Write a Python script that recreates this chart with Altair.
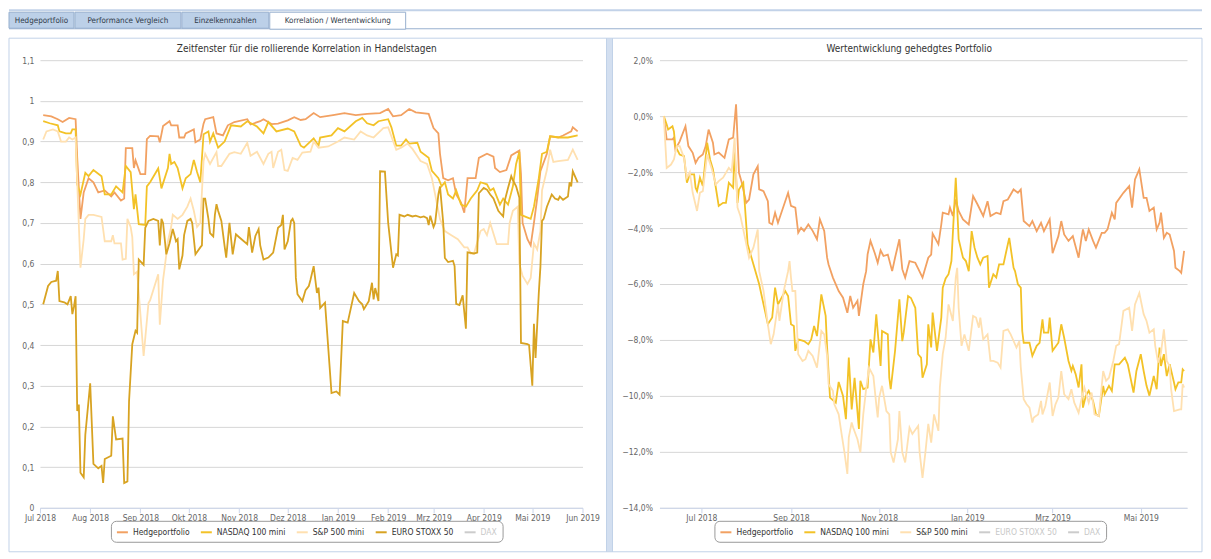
import altair as alt
import pandas as pd

# ---------------------------------------------------------------- data
SERIES = ["Hedgeportfolio", "NASDAQ 100 mini", "S&P 500 mini", "EURO STOXX 50", "DAX"]
MONTHS_DE = ["Jan", "Feb", "Mrz", "Apr", "Mai", "Jun", "Jul", "Aug", "Sep", "Okt", "Nov", "Dez"]
TABS = ["Hedgeportfolio", "Performance Vergleich", "Einzelkennzahlen", "Korrelation / Wertentwicklung"]
CORR_TITLE = "Zeitfenster für die rollierende Korrelation in Handelstagen"
PERF_TITLE = "Wertentwicklung gehedgtes Portfolio"
CORR_TICKS = [0, 0.1, 0.2, 0.3, 0.4, 0.5, 0.6, 0.7, 0.8, 0.9, 1, 1.1]
PERF_TICKS = [-14, -12, -10, -8, -6, -4, -2, 0, 2]

# rolling correlation, days counted from CORR_START
CORR_START = "2018-07-01"
corr_hedge_days = [
    2, 7, 11, 14, 18, 22, 23, 25, 27, 30, 33, 36, 40, 44, 46, 50, 52, 53, 57, 58,
    59, 62, 65, 66, 68, 73, 74, 76, 80, 81, 85, 86, 89, 90, 95, 96, 99, 101, 102, 107,
    109, 113, 116, 120, 128, 130, 136, 138, 143, 147, 153, 157, 161, 164, 169, 173, 181, 188, 195, 202,
    210, 215, 218, 223, 228, 232, 240, 243, 246, 247, 249, 252, 255, 257, 260, 262, 264, 269, 271, 276,
    280, 281, 284, 288, 291, 296, 297, 298, 301, 303, 305, 307, 309, 313, 315, 320, 323, 328, 329, 332]
corr_hedge = [
    .965, .962, .955, .948, .958, .955, .86, .71, .775, .81, .80, .775, .78, .765, .775, .755, .76, .884, .884, .835,
    .854, .82, .82, .906, .914, .913, .898, .938, .95, .94, .94, .91, .91, .92, .93, .898, .905, .944, .955, .96,
    .92, .915, .94, .948, .955, .942, .95, .955, .943, .944, .952, .96, .953, .955, .97, .96, .965, .97, .965, .968,
    .97, .98, .962, .965, .98, .972, .968, .933, .92, .87, .81, .805, .81, .77, .75, .725, .81, .81, .86, .87,
    .863, .835, .825, .83, .866, .878, .82, .70, .66, .645, .70, .76, .827, .87, .913, .91, .915, .925, .935, .925]

corr_nasdaq_days = [
    2, 6, 11, 12, 16, 19, 20, 22, 23, 25, 28, 30, 33, 38, 40, 44, 47, 51, 53, 56,
    58, 59, 61, 65, 66, 68, 73, 75, 79, 80, 81, 83, 85, 88, 90, 93, 95, 97, 99, 101,
    104, 105, 107, 110, 114, 118, 124, 128, 134, 138, 141, 146, 153, 157, 161, 163, 169, 172, 173, 180,
    184, 188, 195, 199, 202, 206, 209, 215, 217, 220, 223, 226, 228, 233, 235, 240, 242, 246, 248, 250,
    252, 255, 257, 260, 263, 266, 270, 272, 276, 278, 280, 284, 286, 289, 291, 292, 294, 296, 297, 300,
    303, 305, 308, 310, 313, 315, 321, 326, 332]
corr_nasdaq = [
    .95, .945, .94, .925, .92, .92, .93, .93, .795, .77, .823, .815, .83, .815, .77, .77, .79, .775, .84, .825,
    .734, .77, .697, .695, .79, .80, .834, .785, .835, .87, .845, .85, .835, .785, .81, .82, .855, .825, .80, .918,
    .925, .90, .92, .885, .90, .94, .937, .95, .937, .92, .948, .925, .932, .925, .89, .885, .908, .89, .91, .915,
    .933, .925, .95, .958, .945, .94, .95, .955, .935, .89, .89, .905, .895, .897, .875, .86, .828, .81, .79, .80,
    .77, .76, .78, .745, .74, .76, .78, .80, .795, .78, .785, .745, .76, .745, .775, .79, .845, .875, .72, .715,
    .71, .74, .81, .87, .875, .913, .91, .91, .915]

corr_sp_days = [
    2, 4, 8, 11, 13, 16, 18, 20, 22, 23, 25, 27, 28, 30, 33, 38, 40, 44, 45, 46,
    50, 51, 53, 54, 56, 57, 58, 60, 64, 67, 68, 73, 74, 76, 77, 79, 81, 82, 85, 88,
    91, 93, 95, 97, 99, 101, 102, 105, 109, 110, 112, 117, 120, 124, 128, 130, 134, 138, 141, 143,
    144, 147, 149, 151, 153, 156, 159, 162, 167, 169, 172, 178, 184, 188, 194, 198, 202, 206, 212, 215,
    220, 223, 227, 230, 235, 239, 242, 244, 247, 250, 254, 258, 262, 264, 266, 268, 272, 274, 276, 278,
    282, 289, 290, 292, 295, 296, 298, 301, 303, 305, 307, 309, 310, 313, 315, 317, 320, 326, 329, 332]
corr_sp = [
    .905, .925, .93, .925, .90, .90, .91, .905, .91, .80, .59, .66, .71, .72, .72, .715, .655, .655, .67, .65,
    .65, .61, .612, .71, .69, .665, .574, .58, .373, .503, .51, .574, .45, .56, .59, .655, .69, .72, .71, .72,
    .74, .76, .73, .69, .70, .852, .87, .845, .874, .84, .84, .87, .874, .87, .897, .865, .875, .845, .87, .875,
    .835, .875, .88, .83, .828, .86, .855, .873, .875, .90, .885, .888, .90, .91, .905, .925, .915, .91, .933, .935,
    .88, .885, .895, .882, .852, .845, .81, .77, .71, .68, .67, .66, .64, .64, .625, .625, .68, .685, .67, .70,
    .648, .648, .70, .73, .74, .60, .57, .55, .565, .65, .635, .68, .78, .83, .88, .85, .852, .855, .88, .855]

corr_euro_days = [
    2, 5, 7, 10, 11, 12, 15, 17, 19, 20, 21, 22, 23, 24, 25, 27, 28, 31, 33, 36,
    38, 39, 40, 44, 45, 47, 51, 52, 54, 55, 57, 59, 60, 61, 64, 65, 67, 70, 73, 74,
    75, 76, 78, 80, 82, 84, 85, 86, 88, 89, 91, 93, 94, 96, 99, 100, 101, 102, 104, 105,
    107, 108, 109, 110, 112, 114, 115, 117, 119, 121, 123, 128, 129, 131, 133, 135, 136, 138, 141, 144,
    147, 149, 150, 151, 153, 155, 156, 157, 158, 159, 162, 164, 166, 167, 169, 171, 172, 173, 176, 180,
    183, 185, 187, 190, 194, 197, 199, 200, 203, 205, 206, 207, 209, 210, 213, 215, 218, 220, 221, 222,
    225, 227, 230, 232, 235, 237, 239, 240, 241, 243, 244, 246, 247, 249, 250, 252, 255, 256, 257, 259,
    261, 263, 264, 268, 270, 271, 274, 276, 278, 280, 283, 284, 286, 287, 289, 291, 292, 294, 296, 297,
    301, 302, 304, 305, 306, 308, 309, 310, 311, 313, 316, 318, 320, 321, 323, 326, 327, 328, 329, 332]
corr_euro = [
    .50, .545, .555, .558, .582, .508, .505, .50, .52, .476, .495, .52, .238, .254, .086, .075, .18, .306, .108, .097,
    .103, .061, .12, .128, .225, .168, .17, .061, .065, .262, .402, .435, .43, .61, .597, .688, .705, .71, .705, .645,
    .71, .70, .623, .65, .685, .655, .66, .586, .62, .67, .705, .71, .70, .623, .64, .645, .76, .76, .71, .675,
    .667, .72, .746, .73, .705, .643, .615, .70, .623, .672, .665, .648, .69, .627, .668, .685, .645, .61, .615, .627,
    .688, .695, .72, .635, .655, .705, .71, .70, .565, .525, .508, .535, .545, .56, .594, .528, .541, .491, .504, .282,
    .286, .278, .459, .455, .528, .508, .50, .488, .508, .553, .512, .54, .508, .827, .826, .70, .59, .623, .62, .72,
    .716, .72, .716, .718, .714, .716, .712, .695, .718, .69, .70, .77, .79, .70, .614, .604, .607, .594, .501, .498,
    .522, .44, .628, .625, .627, .773, .786, .782, .77, .76, .73, .725, .716, .755, .786, .815, .805, .79, .762, .405,
    .402, .40, .30, .452, .368, .528, .592, .705, .71, .74, .77, .76, .757, .765, .757, .765, .80, .79, .827, .80]

# hedged portfolio performance in %, days counted from PERF_START
PERF_START = "2018-06-01"
perf_hedge_days = [
    4, 6, 10, 11, 12, 15, 19, 21, 24, 26, 28, 31, 33, 35, 38, 39, 42, 46, 49, 52,
    54, 56, 58, 61, 63, 66, 69, 70, 73, 76, 77, 79, 81, 83, 90, 92, 95, 97, 99, 101,
    104, 107, 110, 112, 115, 117, 118, 121, 125, 128, 131, 133, 135, 138, 139, 142, 144, 145, 147, 150,
    152, 154, 156, 159, 162, 164, 167, 169, 171, 174, 178, 180, 183, 187, 189, 190, 194, 196, 197, 201,
    202, 204, 206, 208, 211, 215, 218, 221, 225, 228, 230, 234, 237, 239, 242, 246, 249, 251, 253, 257,
    259, 262, 265, 267, 271, 273, 277, 279, 281, 284, 287, 291, 293, 294, 296, 298, 301, 303, 307, 309,
    311, 314, 316, 317, 322, 326, 328, 330, 333, 336, 338, 340, 343, 345, 347, 348, 350, 352, 354, 357,
    358, 361, 362, 364]
perf_hedge = [
    0, -0.83, -0.83, -0.77, -1.19, -0.9, -0.36, -1.07, -1.31, -1.67,
    -1.49, -1.37, -1.07, -0.48, -0.95, -1.37, -1.3, -1.49, -0.83, -0.77,
    0.42, -2.02, -2.38, -3.1, -2.98, -2.08, -1.79, -2.62, -2.68, -3.04,
    -3.81, -3.87, -3.45, -3.81, -2.74, -3.21, -3.27, -4.17, -3.99, -4.11,
    -3.87, -4.1, -4.4, -3.69, -4.1, -5.06, -5.3, -5.77, -6.25, -6.49,
    -7.03, -6.43, -6.85, -6.6, -7.14, -6.01, -5.54, -4.94, -4.46, -4.9,
    -5.24, -4.8, -5.0, -4.95, -5.54, -5.06, -4.4, -5.47, -5.77, -5.18,
    -5.24, -5.45, -5.77, -5.06, -4.95, -4.2, -4.58, -3.87, -3.45, -3.51,
    -3.27, -3.57, -2.98, -3.39, -3.69, -3.87, -2.86, -3.15, -3.57, -3.04,
    -3.57, -3.45, -3.5, -3.04, -2.98, -2.62, -2.74, -2.62, -3.75, -3.93,
    -3.75, -4.11, -3.81, -4.11, -3.69, -4.9, -4.29, -3.75, -4.23, -4.46,
    -4.29, -5.06, -4.35, -4.05, -4.46, -4.05, -4.46, -4.7, -4.17, -4.17,
    -4.05, -3.45, -3.69, -3.1, -2.74, -2.5, -3.27, -2.26, -1.9, -2.92,
    -2.92, -3.39, -3.27, -4.05, -3.81, -3.45, -4.35, -4.17, -4.23, -4.82,
    -5.42, -5.54, -5.6, -4.82]

perf_nasdaq_days = [
    4, 6, 7, 10, 11, 12, 15, 18, 20, 22, 25, 26, 27, 29, 31, 34, 36, 38, 42, 45,
    47, 49, 52, 53, 55, 56, 59, 62, 70, 74, 76, 79, 81, 83, 88, 90, 92, 94, 95, 97,
    101, 104, 106, 108, 110, 113, 116, 117, 119, 123, 125, 128, 130, 132, 134, 136, 139, 140, 142, 145,
    147, 149, 151, 154, 155, 159, 160, 161, 164, 167, 169, 170, 173, 175, 178, 180, 182, 183, 186, 187,
    189, 190, 193, 196, 197, 199, 201, 203, 206, 207, 208, 211, 213, 215, 217, 219, 221, 223, 225, 228,
    229, 232, 234, 236, 239, 241, 243, 246, 247, 249, 251, 252, 253, 257, 259, 262, 264, 266, 267, 270,
    271, 273, 277, 279, 281, 284, 286, 287, 289, 291, 293, 294, 296, 298, 301, 303, 305, 308, 309, 312,
    314, 316, 319, 323, 325, 329, 331, 334, 336, 338, 340, 343, 345, 347, 348, 350, 352, 354, 357, 358,
    360, 362, 363, 364]
perf_nasdaq = [
    0, -0.3, -0.48, -0.36, -0.55, -1.07, -1.37, -1.43, -2.38, -2.08,
    -2.08, -2.56, -2.68, -2.2, -2.5, -0.95, -1.55, -1.9, -3.21, -3.1,
    -3.1, -2.38, -2.56, -1.25, -3.1, -2.62, -2.38, -4.58, -6.01, -6.96,
    -7.44, -7.2, -6.13, -6.73, -6.25, -6.43, -7.44, -7.5, -8.39, -7.98,
    -8.04, -8.15, -7.98, -7.5, -7.86, -6.37, -7.14, -8.27, -10.06, -10.24,
    -9.5, -10.0, -10.83, -8.63, -10.48, -9.35, -11.18, -9.46, -9.76, -9.7,
    -7.98, -8.45, -7.08, -8.93, -7.68, -7.8, -9.35, -9.76, -8.39, -6.55,
    -8.04, -7.74, -6.43, -6.5, -6.85, -8.51, -8.63, -9.35, -8.87, -7.44,
    -8.27, -7.02, -8.39, -7.2, -6.13, -5.8, -5.65, -5.18, -2.2, -3.27,
    -4.4, -5.06, -5.18, -5.54, -4.11, -4.7, -5.06, -5.3, -5.06, -5.0,
    -6.13, -5.65, -5.77, -5.3, -5.3, -4.82, -4.35, -5.42, -5.54, -6.01,
    -6.13, -7.68, -8.1, -8.1, -8.57, -8.21, -8.1, -7.26, -7.74, -7.74,
    -7.2, -8.39, -8.1, -7.44, -7.92, -8.75, -9.1, -8.93, -9.23, -9.7,
    -8.87, -10.42, -10.0, -9.82, -10.18, -10.66, -10.72, -9.64, -9.94, -9.64,
    -9.82, -8.87, -8.87, -8.63, -8.87, -9.88, -9.11, -8.51, -9.11, -9.64,
    -9.99, -9.29, -9.76, -8.27, -8.93, -8.51, -9.29, -8.87, -9.52, -9.76,
    -9.52, -9.52, -9.05, -9.11]

perf_sp_days = [
    4, 6, 9, 11, 13, 15, 18, 20, 22, 24, 27, 29, 31, 34, 37, 40, 42, 45, 49, 51,
    53, 55, 57, 59, 63, 66, 69, 70, 73, 76, 78, 80, 83, 84, 87, 90, 91, 92, 93, 95,
    97, 100, 102, 104, 107, 110, 113, 115, 117, 118, 121, 122, 125, 127, 129, 131, 132, 134, 135, 138,
    140, 142, 144, 146, 149, 151, 152, 153, 155, 158, 160, 161, 163, 166, 167, 169, 171, 174, 176, 180,
    181, 183, 185, 187, 189, 191, 194, 195, 197, 199, 201, 204, 206, 207, 208, 210, 212, 215, 218, 220,
    222, 223, 225, 228, 230, 232, 235, 237, 239, 242, 244, 248, 250, 251, 253, 255, 257, 259, 260, 263,
    265, 266, 268, 271, 273, 275, 277, 279, 281, 284, 286, 288, 291, 293, 295, 298, 300, 302, 305, 308,
    310, 312, 315, 317, 319, 322, 326, 328, 330, 333, 336, 338, 340, 343, 344, 346, 348, 350, 352, 354,
    355, 357, 361, 362, 363, 364]
perf_sp = [
    0, -1.85, -1.73, -1.55, -1.07, -1.07, -1.49, -2.2, -2.0, -2.74,
    -3.39, -2.74, -2.68, -1.37, -1.85, -2.44, -2.32, -2.2, -1.85, -1.97,
    -0.77, -3.27, -3.57, -4.05, -5.06, -4.7, -4.05, -5.54, -6.25, -7.44,
    -8.15, -7.8, -6.73, -7.32, -6.25, -5.54, -5.18, -5.77, -6.25, -6.25,
    -8.51, -8.75, -8.69, -8.39, -8.57, -8.99, -7.68, -7.8, -8.57, -9.58,
    -9.82, -10.3, -10.66, -11.36, -12.02, -12.79, -11.48, -10.95, -11.13, -11.55,
    -12.02, -10.66, -9.76, -8.99, -9.29, -10.3, -10.77, -10.06, -9.64, -10.54,
    -10.66, -12.02, -12.38, -11.55, -10.54, -12.02, -12.38, -11.13, -11.36, -11.07,
    -12.02, -12.93, -12.02, -11.0, -11.67, -10.66, -11.25, -9.7, -8.51, -7.92,
    -6.73, -7.32, -5.77, -5.42, -6.85, -8.21, -7.8, -8.39, -7.14, -7.2,
    -7.56, -7.2, -7.98, -7.8, -8.75, -8.75, -8.81, -8.99, -7.68, -7.62,
    -7.8, -8.27, -8.04, -8.99, -10.12, -10.3, -10.42, -10.95, -10.77, -10.66,
    -10.18, -10.66, -10.36, -9.52, -10.72, -10.3, -10.06, -9.11, -9.94, -10.12,
    -9.76, -10.24, -10.6, -10.12, -9.7, -10.24, -9.88, -10.66, -10.72, -9.11,
    -9.46, -9.35, -8.75, -8.21, -8.15, -6.96, -6.85, -7.68, -6.73, -6.32,
    -7.08, -7.32, -7.74, -7.62, -8.21, -8.81, -8.45, -7.62, -8.75, -8.93,
    -9.76, -10.54, -10.48, -10.48, -9.58, -9.7]

# ---------------------------------------------------------------- styles
FONT = "DejaVu Sans Condensed"
C_HEDGE, C_NASDAQ, C_SP, C_EURO, C_OFF = "#F2A162", "#F3C227", "#FFE0B0", "#D8A322", "#CCCCCC"
CORR_COLORS = [C_HEDGE, C_NASDAQ, C_SP, C_EURO, C_OFF]
PERF_COLORS = [C_HEDGE, C_NASDAQ, C_SP, C_OFF, C_OFF]
AXIS_LABEL = "#666666"
GRID = "#d6d6d6"
AXIS_LINE = "#ccd6eb"
CHROME_BLUE = "#c2d2e8"
CHROME_DARK = "#98b0cf"
TAB_FILL = "#bcd0e8"


def frame(start, days, values, name):
    return pd.DataFrame({
        "date": pd.Timestamp(start) + pd.to_timedelta(days, unit="D"),
        "value": values,
        "series": name,
    })


corr_df = pd.concat([
    frame(CORR_START, corr_hedge_days, corr_hedge, SERIES[0]),
    frame(CORR_START, corr_nasdaq_days, corr_nasdaq, SERIES[1]),
    frame(CORR_START, corr_sp_days, corr_sp, SERIES[2]),
    frame(CORR_START, corr_euro_days, corr_euro, SERIES[3]),
], ignore_index=True)

perf_df = pd.concat([
    frame(PERF_START, perf_hedge_days, perf_hedge, SERIES[0]),
    frame(PERF_START, perf_nasdaq_days, perf_nasdaq, SERIES[1]),
    frame(PERF_START, perf_sp_days, perf_sp, SERIES[2]),
], ignore_index=True)

month_expr = f"{MONTHS_DE!r}[month(datum.value)] + ' ' + year(datum.value)"


def x_axis(step):
    return alt.Axis(title=None, grid=False, tickCount=alt.TimeIntervalStep(interval="month", step=step),
                    labelExpr=month_expr, labelOverlap=False, labelFlush=False, labelBound=False,
                    domainColor=AXIS_LINE, tickColor=AXIS_LINE,
                    tickSize=5, labelPadding=1, labelColor=AXIS_LABEL, labelFont=FONT, labelFontSize=8.5)


def y_axis(values, expr, pad):
    return alt.Axis(title=None, values=values, labelExpr=expr, domain=False, ticks=False, gridColor=GRID,
                    labelPadding=pad, labelColor=AXIS_LABEL, labelFont=FONT, labelFontSize=8.5)


def legend(x, hidden_expr):
    return alt.Legend(orient="none", legendX=x, legendY=461, direction="horizontal", columns=5, title=None,
                      symbolType="stroke", symbolSize=121, symbolStrokeWidth=2, labelFont=FONT, labelFontSize=8.5,
                      labelColor=alt.ExprRef(expr=f"{hidden_expr} ? '#c8c8c8' : '#333333'"),
                      strokeColor="#9a9a9a", cornerRadius=5, padding=5, columnPadding=7, labelOffset=4,
                      fillColor="#ffffff")


corr_lines = alt.Chart(corr_df).mark_line(strokeWidth=1.8).encode(
    x=alt.X("date:T", axis=x_axis(1),
            scale=alt.Scale(domain=[alt.DateTime(year=2018, month=7, date=1),
                                    alt.DateTime(year=2019, month=6, date=1)])),
    y=alt.Y("value:Q", scale=alt.Scale(domain=[0, 1.1], nice=False),
            axis=y_axis(CORR_TICKS, "replace(format(datum.value, '.1~f'), '.', ',')", 6)),
    color=alt.Color("series:N", scale=alt.Scale(domain=SERIES, range=CORR_COLORS),
                    legend=legend(71, "datum.label == 'DAX'")),
)

perf_lines = alt.Chart(perf_df).mark_line(strokeWidth=1.8).encode(
    x=alt.X("date:T", axis=x_axis(2),
            scale=alt.Scale(domain=[alt.DateTime(year=2018, month=6, date=2),
                                    alt.DateTime(year=2019, month=6, date=2)])),
    y=alt.Y("value:Q", scale=alt.Scale(domain=[-14, 2], nice=False),
            axis=y_axis(PERF_TICKS, "replace(format(datum.value, '.1f'), '.', ',') + '%'", 7)),
    color=alt.Color("series:N", scale=alt.Scale(domain=SERIES, range=PERF_COLORS),
                    legend=legend(55, "(datum.label == 'DAX' || datum.label == 'EURO STOXX 50')")),
)

# ---------------------------------------------------------------- window chrome (page px, relative to left plot)
OX, OY = 39, 59
one = pd.DataFrame({"k": [0]})


def box(x1, y1, x2, y2, fill="none", stroke="none", sw=1):
    return alt.Chart(one).mark_rect(fill=fill, stroke=stroke, strokeWidth=sw).encode(
        x=alt.value(x1 - OX), x2=alt.value(x2 - OX), y=alt.value(y1 - OY), y2=alt.value(y2 - OY))


def label(text, x, y, size=8, color="#2f3a48"):
    return alt.Chart(one).mark_text(text=text, font=FONT, fontSize=size, color=color, align="center",
                                    baseline="middle").encode(x=alt.value(x - OX), y=alt.value(y - OY))


tab_edges = [(8, 73), (74, 180), (181, 268), (269, 405)]
chrome = [
    box(8, 8, 1202, 10, fill=CHROME_BLUE),
    box(8, 27, 1202, 28, fill=CHROME_DARK),
]
for i, (name, (a, b)) in enumerate(zip(TABS, tab_edges)):
    active = i == len(TABS) - 1
    chrome.append(box(a, 11, b, 28 if active else 27, fill="#ffffff" if active else TAB_FILL,
                      stroke=CHROME_DARK))
    chrome.append(label(name, (a + b) / 2, 19.5))
chrome += [
    box(8, 37, 606, 551, stroke=CHROME_BLUE),
    box(612, 37, 1202, 551, stroke=CHROME_BLUE),
    box(606, 37, 612, 551, fill="#d3dff0", stroke=CHROME_BLUE),
    label(CORR_TITLE, 306, 48, size=10, color="#333333"),
    label(PERF_TITLE, 909, 48, size=10, color="#333333"),
]

left = alt.layer(*chrome, corr_lines).properties(width=543, height=448)
right = perf_lines.properties(width=528, height=448)

chart = alt.hconcat(left, right, spacing=77, bounds="flush").resolve_scale(
    color="independent", x="independent", y="independent"
).properties(padding=0, background="#ffffff").configure_view(stroke=None)

chart.save("out.html", embed_options={"renderer": "svg", "actions": False})
